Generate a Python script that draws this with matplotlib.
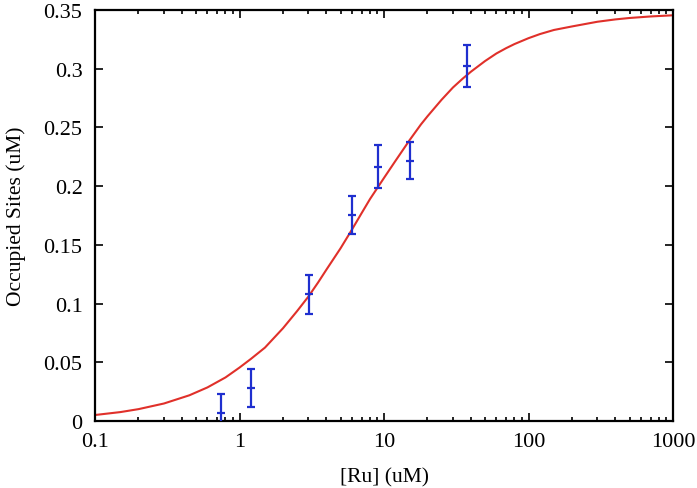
import matplotlib
matplotlib.use("Agg")
import matplotlib.pyplot as plt
from matplotlib.ticker import LogLocator, FixedLocator, FuncFormatter, NullFormatter

# Measured data
ru_conc = [0.75, 1.21, 3.03, 6.04, 9.14, 15.06, 37.5]
occupied = [0.0068, 0.0279, 0.1078, 0.1753, 0.2166, 0.2217, 0.3022]
occ_err = [0.016, 0.0163, 0.0165, 0.016, 0.0185, 0.016, 0.0178]

# Fitted curve
fit_x = [0.1, 0.15, 0.2, 0.3, 0.45, 0.6, 0.8, 1.0, 1.2, 1.5, 2.0, 2.5, 3.0, 3.5, 4.0,
         5.0, 6.0, 7.0, 8.0, 10.0, 12.0, 15.0, 18.0, 20.0, 25.0, 30.0, 35.0, 40.0,
         50.0, 60.0, 70.0, 80.0, 100.0, 120.0, 150.0, 200.0, 300.0, 400.0, 500.0,
         700.0, 1000.0]
fit_y = [0.0051, 0.0076, 0.0101, 0.0149, 0.0219, 0.0286, 0.0371, 0.0455, 0.0529, 0.0625,
         0.0790, 0.0935, 0.1060, 0.1180, 0.1290, 0.1470, 0.1630, 0.1770, 0.1890, 0.2070,
         0.2215, 0.2390, 0.2525, 0.2595, 0.2735, 0.2840, 0.2915, 0.2975, 0.3065, 0.3130,
         0.3175, 0.3210, 0.3260, 0.3295, 0.3330, 0.3360, 0.3400, 0.3420, 0.3432,
         0.3445, 0.3455]

x_ticks = [0.1, 1, 10, 100, 1000]
x_tick_labels = ["0.1", "1", "10", "100", "1000"]
y_ticks = [0, 0.05, 0.1, 0.15, 0.2, 0.25, 0.3, 0.35]
y_tick_labels = ["0", "0.05", "0.1", "0.15", "0.2", "0.25", "0.3", "0.35"]

plt.rcParams['font.family'] = ['Liberation Serif', 'DejaVu Serif']

fig = plt.figure(figsize=(6.97, 4.89), dpi=100)
ax = fig.add_axes([95/697, 67/489, (673-95)/697, (422-11)/489])

ax.plot(fit_x, fit_y, color='#e0302a', lw=1.5, zorder=2)
ax.errorbar(ru_conc, occupied, yerr=occ_err, fmt='none', ecolor='#1f2fcf',
            elinewidth=1.6, capsize=3, capthick=1.6, zorder=3)
ax.plot(ru_conc, occupied, linestyle='none', marker='_', color='#1f2fcf',
        markersize=6, markeredgewidth=1.6, zorder=4)

ax.set_xscale('log')
ax.set_xlim(0.1, 1000)
ax.set_ylim(0, 0.35)
ax.xaxis.set_major_locator(FixedLocator(x_ticks))
ax.xaxis.set_major_formatter(FuncFormatter(lambda v, p: x_tick_labels[x_ticks.index(v)] if v in x_ticks else ""))
ax.xaxis.set_minor_locator(LogLocator(base=10, subs=range(2, 10)))
ax.xaxis.set_minor_formatter(NullFormatter())
ax.set_yticks(y_ticks)
ax.set_yticklabels(y_tick_labels)

ax.tick_params(which='both', direction='in', top=True, right=True, labelsize=16,
               width=1.2, colors='black')
ax.tick_params(which='major', length=6)
ax.tick_params(axis='x', which='major', pad=8)
ax.tick_params(axis='y', which='major', pad=9)
ax.tick_params(which='minor', length=3)
for s in ax.spines.values():
    s.set_linewidth(1.6)

ax.set_xlabel('[Ru] (uM)', fontsize=15.5, va='center')
ax.set_ylabel('Occupied Sites (uM)', fontsize=15.5, va='center')
ax.xaxis.set_label_coords(0.5, (422-478)/411)
ax.yaxis.set_label_coords((16-95)/578, 0.5)

fig.savefig('out.png', dpi=100)
